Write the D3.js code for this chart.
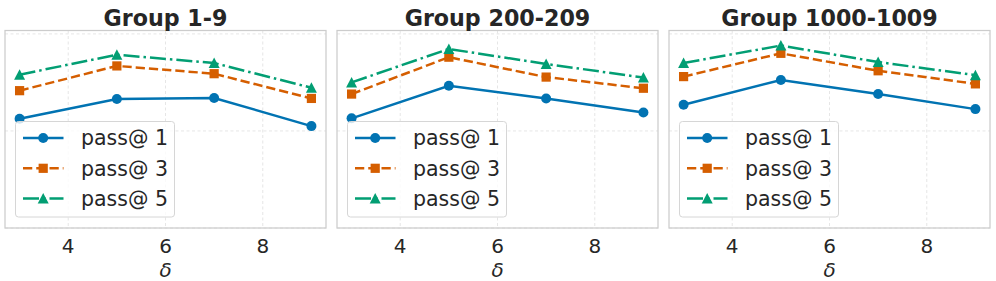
<!DOCTYPE html>
<html>
<head>
<meta charset="utf-8">
<script src="https://cdn.jsdelivr.net/npm/d3@7"></script>
<style>
  body { margin: 0; background: #fff; }
  svg { display: block; font-family: "DejaVu Sans", sans-serif; }
</style>
</head>
<body>
<svg id="chart" width="996" height="281"></svg>
<script>
// data
var deltas = [3, 5, 7, 9];
var groups = ['Group 1-9', 'Group 200-209', 'Group 1000-1009'];
var pass1 = [
  [0.425, 0.466, 0.468, 0.410],
  [0.426, 0.493, 0.467, 0.438],
  [0.454, 0.505, 0.476, 0.445]
];
var pass3 = [
  [0.483, 0.534, 0.518, 0.467],
  [0.476, 0.552, 0.511, 0.488],
  [0.512, 0.560, 0.524, 0.497]
];
var pass5 = [
  [0.516, 0.557, 0.540, 0.489],
  [0.500, 0.569, 0.538, 0.510],
  [0.540, 0.576, 0.542, 0.515]
];
var xTicks = [4, 6, 8];
var yTicks = [0.2, 0.4, 0.6];
var seriesNames = ['pass@ 1', 'pass@ 3', 'pass@ 5'];

var series = [
  { name: seriesNames[0], values: pass1, color: '#0173b2', dash: null,           marker: 'circle' },
  { name: seriesNames[1], values: pass3, color: '#d55e00', dash: '9.25,4',       marker: 'square' },
  { name: seriesNames[2], values: pass5, color: '#029e73', dash: '16,4,2.5,4',   marker: 'triangle' }
];

var svg = d3.select('#chart'),
    panelLefts = [5, 337, 669],
    panelW = 321,
    plotTop = 30.5,
    plotBottom = 228,
    gridColor = '#e3e3e3',
    spineColor = '#cccccc';

var y = d3.scaleLinear().domain([0.2, 0.607]).range([plotBottom, plotTop]);

function drawMarker(g, type, cx, cy, color) {
  if (type == 'circle') {
    g.append('circle').attr('cx', cx).attr('cy', cy).attr('r', 5).attr('fill', color);
  } else if (type == 'square') {
    g.append('rect').attr('x', cx - 4.6).attr('y', cy - 4.6)
      .attr('width', 9.2).attr('height', 9.2).attr('fill', color);
  } else {
    g.append('path')
      .attr('d', 'M' + cx + ',' + (cy - 5.5) + 'L' + (cx + 5.5) + ',' + (cy + 5) + 'L' + (cx - 5.5) + ',' + (cy + 5) + 'Z')
      .attr('fill', color);
  }
}

groups.forEach(function(title, gi) {
  var left = panelLefts[gi],
      x = d3.scaleLinear().domain([2.7, 9.3]).range([left, left + panelW]),
      g = svg.append('g');

  // grid
  g.selectAll('line.vgrid').data(xTicks).enter().append('line')
    .attr('x1', function(d) { return x(d); }).attr('x2', function(d) { return x(d); })
    .attr('y1', plotTop).attr('y2', plotBottom)
    .attr('stroke', gridColor).attr('stroke-width', 0.9).attr('stroke-dasharray', '3,2.5');
  g.selectAll('line.hgrid').data(yTicks).enter().append('line')
    .attr('x1', left).attr('x2', left + panelW)
    .attr('y1', function(d) { return y(d); }).attr('y2', function(d) { return y(d); })
    .attr('stroke', gridColor).attr('stroke-width', 0.9).attr('stroke-dasharray', '3,2.5');

  // spines
  g.append('rect')
    .attr('x', left).attr('y', plotTop).attr('width', panelW).attr('height', plotBottom - plotTop)
    .attr('fill', 'none').attr('stroke', spineColor).attr('stroke-width', 1.25);

  // lines + markers
  series.forEach(function(s) {
    var pts = deltas.map(function(d, i) { return [x(d), y(s.values[gi][i])]; });
    g.append('path')
      .attr('d', d3.line()(pts))
      .attr('fill', 'none')
      .attr('stroke', s.color)
      .attr('stroke-width', 2.5)
      .attr('stroke-dasharray', s.dash);
    pts.forEach(function(p) { drawMarker(g, s.marker, p[0], p[1], s.color); });
  });

  // x tick labels
  g.selectAll('text.tick').data(xTicks).enter().append('text')
    .attr('x', function(d) { return x(d); })
    .attr('y', 252.5)
    .attr('text-anchor', 'middle')
    .attr('font-size', 20)
    .attr('fill', '#262626')
    .text(function(d) { return d; });

  // axis label
  g.append('text')
    .attr('x', left + panelW / 2).attr('y', 276.5)
    .attr('text-anchor', 'middle')
    .attr('font-size', 20).attr('font-style', 'italic')
    .attr('fill', '#262626')
    .text('δ');

  // title
  g.append('text')
    .attr('x', left + panelW / 2).attr('y', 25.5)
    .attr('text-anchor', 'middle')
    .attr('font-size', 22.2).attr('font-weight', 'bold')
    .attr('fill', '#262626')
    .text(title);

  // legend
  var lg = g.append('g').attr('transform', 'translate(' + (left + 10.5) + ',121.5)');
  lg.append('rect')
    .attr('width', 159).attr('height', 95.5).attr('rx', 3)
    .attr('fill', 'white').attr('fill-opacity', 0.8)
    .attr('stroke', '#d6d6d6').attr('stroke-width', 1);
  series.forEach(function(s, i) {
    var cy = 16.5 + i * 30.3;
    lg.append('line')
      .attr('x1', 7.5).attr('x2', 48).attr('y1', cy).attr('y2', cy)
      .attr('stroke', s.color).attr('stroke-width', 2.5)
      .attr('stroke-dasharray', s.dash);
    drawMarker(lg, s.marker, 27.7, cy, s.color);
    lg.append('text')
      .attr('x', 65.5).attr('y', cy + 7.3)
      .attr('font-size', 20.5)
      .attr('fill', '#262626')
      .text(s.name);
  });
});
</script>
</body>
</html>
